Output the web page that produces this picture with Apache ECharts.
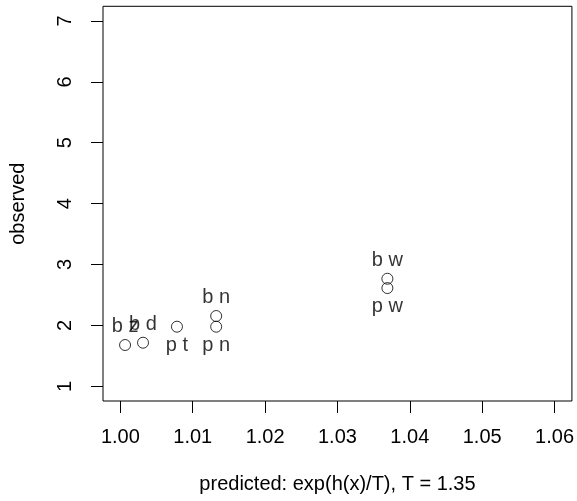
<!DOCTYPE html>
<html>
<head>
<meta charset="utf-8">
<script src="https://cdn.jsdelivr.net/npm/echarts@6/dist/echarts.min.js"></script>
<style>
  html, body { margin: 0; padding: 0; background: #fff; }
  #chart { width: 577px; height: 501px; }
</style>
</head>
<body>
<div id="chart"></div>
<script>
// Pair labels and their coordinates
const pairNames = ['b z', 'b d', 'p t', 'b n', 'p n', 'b w', 'p w'];
const predicted = [1.00065, 1.00313, 1.00782, 1.01324, 1.01324, 1.0369, 1.0369];
const observed  = [1.679, 1.717, 1.98, 2.155, 1.98, 2.767, 2.614];
const labelSide = ['top', 'top', 'bottom', 'top', 'bottom', 'top', 'bottom'];

// Axis limits and tick marks
const xLimits = [1.00, 1.06];
const yLimits = [1, 7];
const xTicks = [1.00, 1.01, 1.02, 1.03, 1.04, 1.05, 1.06];
const yTicks = [1, 2, 3, 4, 5, 6, 7];

// 4% padding on each side of the limits, like a base R plot
function padded(lim) {
  const d = (lim[1] - lim[0]) * 0.04;
  return [lim[0] - d, lim[1] + d];
}
const xRange = padded(xLimits);
const yRange = padded(yLimits);

const FONT = '"Liberation Sans", Arial, Helvetica, sans-serif';
const FS = 20;

const points = pairNames.map((n, i) => ({
  name: n,
  value: [predicted[i], observed[i]],
  label: { position: labelSide[i] }
}));

const chart = echarts.init(document.getElementById('chart'), null, { renderer: 'canvas' });
chart.setOption({
  animation: false,
  backgroundColor: '#ffffff',
  textStyle: { fontFamily: FONT, color: '#000' },
  grid: {
    left: 102.7, right: 4.7, top: 6.3, bottom: 100,
    show: true, borderColor: '#000', borderWidth: 1, backgroundColor: 'transparent'
  },
  xAxis: {
    type: 'value',
    min: xRange[0], max: xRange[1],
    name: 'predicted: exp(h(x)/T), T = 1.35',
    nameLocation: 'middle',
    nameGap: 73,
    nameTextStyle: { fontFamily: FONT, fontSize: FS, color: '#000' },
    axisLine: { show: false },
    splitLine: { show: false },
    axisTick: { show: true, length: 12, inside: false, customValues: xTicks,
                lineStyle: { color: '#000', width: 1 } },
    axisLabel: { show: true, customValues: xTicks, margin: 26,
                 fontFamily: FONT, fontSize: FS, color: '#000',
                 formatter: v => v.toFixed(2) }
  },
  yAxis: {
    type: 'value',
    min: yRange[0], max: yRange[1],
    name: 'observed',
    nameLocation: 'middle',
    nameGap: 75,
    nameRotate: 90,
    nameTextStyle: { fontFamily: FONT, fontSize: FS, color: '#000' },
    axisLine: { show: false },
    splitLine: { show: false },
    axisTick: { show: true, length: 12, inside: false, customValues: yTicks,
                lineStyle: { color: '#000', width: 1 } },
    axisLabel: { show: true, customValues: yTicks, margin: 28, rotate: 90,
                 fontFamily: FONT, fontSize: FS, color: '#000',
                 formatter: v => String(v) }
  },
  series: [{
    type: 'scatter',
    symbol: 'circle',
    symbolSize: 11,
    itemStyle: { color: 'rgba(0,0,0,0)', borderColor: '#000', borderWidth: 1 },
    label: {
      show: true,
      formatter: p => p.name,
      distance: 2.5,
      fontFamily: FONT, fontSize: FS, color: '#000'
    },
    labelLayout: { hideOverlap: false },
    emphasis: { disabled: true },
    data: points
  }]
});
</script>
</body>
</html>
